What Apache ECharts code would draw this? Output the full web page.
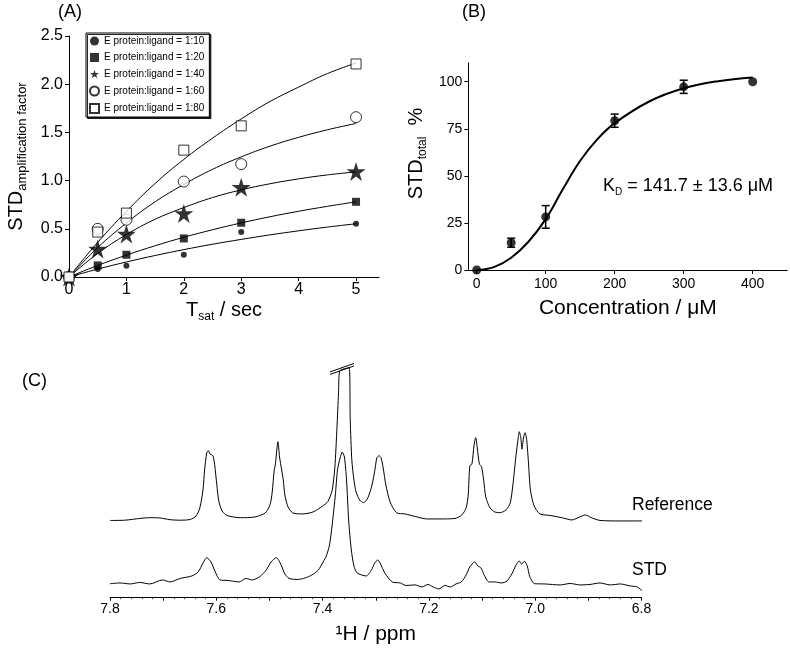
<!DOCTYPE html>
<html><head><meta charset="utf-8">
<script src="https://cdn.jsdelivr.net/npm/echarts@6/dist/echarts.min.js"></script>
<style>html,body{margin:0;padding:0;background:#fff}#c{width:790px;height:648px}</style>
</head><body><div id="c"></div>
<script>
// ---------- Panel A ----------
const tSat = [0, 0.5, 1, 2, 3, 5];
const ratioNames = ['E protein:ligand = 1:10','E protein:ligand = 1:20','E protein:ligand = 1:40','E protein:ligand = 1:60','E protein:ligand = 1:80'];
const amp110 = [0, 0.083, 0.117, 0.231, 0.467, 0.553];
const amp120 = [0, 0.12, 0.231, 0.40, 0.563, 0.78];
const amp140 = [0, 0.29, 0.446, 0.66, 0.93, 1.094];
const amp160 = [0, 0.50, 0.594, 0.99, 1.171, 1.658];
const amp180 = [0, 0.466, 0.663, 1.316, 1.568, 2.21];
const fitT = [0, 0.5, 1, 1.5, 2, 2.5, 3, 3.5, 4, 4.5, 5];
const fit110 = [0, 0.082, 0.156, 0.223, 0.284, 0.34, 0.39, 0.437, 0.479, 0.518, 0.552];
const fit120 = [0, 0.12, 0.227, 0.324, 0.412, 0.49, 0.561, 0.625, 0.682, 0.733, 0.78];
const fit140 = [0, 0.245, 0.44, 0.599, 0.72, 0.824, 0.904, 0.967, 1.018, 1.059, 1.09];
const fit160 = [0, 0.305, 0.56, 0.78, 0.96, 1.117, 1.246, 1.357, 1.449, 1.527, 1.593];
const fit180 = [0, 0.36, 0.68, 0.97, 1.22, 1.44, 1.64, 1.82, 1.97, 2.11, 2.22];
const tTicks = [0, 1, 2, 3, 4, 5];

// ---------- Panel B ----------
const conc = [0, 50, 100, 200, 300, 400];
const stdTotal = [0, 14.5, 28.2, 79.3, 97.3, 100];
const stdErr = [0, 2.4, 6.0, 3.5, 3.5, 0];
const fitConc = [0, 25, 50, 75, 100, 125, 150, 175, 200, 250, 300, 350, 400];
const fitStd = [0, 1.5, 6.5, 15, 27, 43, 58, 69.5, 78, 89.5, 96.5, 100.3, 102.3];
const concTicks = [0, 100, 200, 300, 400];
const pctTicks = [0, 25, 50, 75, 100];

// ---------- Panel C (ppm, intensity) ----------
const refSpectrum = [[7.800,30.9],[7.772,31.0],[7.744,31.7],[7.725,32.0],[7.706,31.9],[7.687,31.2],[7.668,31.0],[7.649,31.3],[7.638,32.7],[7.631,35.9],[7.625,43.1],[7.622,51.1],[7.618,57.9],[7.615,58.8],[7.612,57.5],[7.608,57.1],[7.606,56.7],[7.603,53.1],[7.599,45.1],[7.595,38.3],[7.589,34.7],[7.580,32.9],[7.555,32.0],[7.527,32.3],[7.508,33.9],[7.499,37.1],[7.495,41.9],[7.491,51.1],[7.489,53.1],[7.484,62.4],[7.481,56.3],[7.477,51.1],[7.474,47.1],[7.471,41.1],[7.465,36.3],[7.456,33.9],[7.437,33.5],[7.418,34.3],[7.401,36.5],[7.390,38.5],[7.382,43.0],[7.377,52.0],[7.373,68.0],[7.370,82.0],[7.368,90.6],[7.350,92.0],[7.348,71.0],[7.345,55.0],[7.341,47.0],[7.337,42.3],[7.330,39.0],[7.323,38.0],[7.315,39.9],[7.307,45.1],[7.301,51.9],[7.298,55.9],[7.294,56.8],[7.290,55.9],[7.286,51.9],[7.281,45.1],[7.273,38.3],[7.261,34.0],[7.245,33.5],[7.226,32.5],[7.204,31.5],[7.179,31.5],[7.151,31.7],[7.138,33.1],[7.130,35.9],[7.126,41.1],[7.123,52.7],[7.119,53.5],[7.115,61.1],[7.112,64.0],[7.109,59.9],[7.105,53.5],[7.101,52.4],[7.097,47.1],[7.093,40.3],[7.085,35.9],[7.076,34.3],[7.066,34.0],[7.055,35.1],[7.047,37.9],[7.042,45.1],[7.036,57.1],[7.032,63.9],[7.030,66.4],[7.027,63.9],[7.025,59.4],[7.022,63.9],[7.019,66.0],[7.016,63.1],[7.013,55.1],[7.009,43.1],[7.002,36.7],[6.991,33.5],[6.972,32.9],[6.948,31.9],[6.931,31.1],[6.916,32.3],[6.906,33.1],[6.893,31.9],[6.878,30.9],[6.840,30.7],[6.799,30.7]];
const stdSpectrum = [[7.800,5.6],[7.781,5.9],[7.762,5.5],[7.744,6.1],[7.725,5.5],[7.701,7.1],[7.687,6.3],[7.668,7.7],[7.646,8.7],[7.634,10.3],[7.625,13.9],[7.618,16.0],[7.610,14.3],[7.602,10.3],[7.593,7.1],[7.578,6.9],[7.557,6.3],[7.544,7.7],[7.533,7.1],[7.518,8.4],[7.506,11.1],[7.497,14.3],[7.487,16.0],[7.478,13.1],[7.471,9.5],[7.463,7.7],[7.446,7.3],[7.433,7.9],[7.420,9.1],[7.408,11.1],[7.399,14.3],[7.393,16.7],[7.387,21.1],[7.382,29.1],[7.376,41.1],[7.372,51.1],[7.367,55.9],[7.363,58.2],[7.359,56.3],[7.355,47.1],[7.351,31.1],[7.346,19.1],[7.341,12.7],[7.335,9.9],[7.318,8.7],[7.308,11.1],[7.302,13.9],[7.296,15.1],[7.291,13.5],[7.283,9.9],[7.269,6.3],[7.254,5.9],[7.243,4.9],[7.226,5.1],[7.213,4.3],[7.202,5.3],[7.192,4.3],[7.181,3.5],[7.170,4.9],[7.160,4.3],[7.149,5.5],[7.139,6.3],[7.130,9.1],[7.123,12.3],[7.114,14.3],[7.108,12.7],[7.102,11.9],[7.096,9.1],[7.087,6.3],[7.076,6.3],[7.063,5.9],[7.053,6.7],[7.044,9.5],[7.036,13.1],[7.030,14.7],[7.026,13.5],[7.020,14.5],[7.015,12.7],[7.010,8.3],[7.001,5.6],[6.982,5.5],[6.953,5.1],[6.934,5.7],[6.916,5.1],[6.897,5.3],[6.878,5.9],[6.859,5.1],[6.840,5.5],[6.821,4.7],[6.808,4.3],[6.799,2.8]];
const breakLine1 = [[7.386, 89.3], [7.341, 92.7]];
const breakLine2 = [[7.386, 90.3], [7.341, 93.7]];
const ppmLabels = [7.8, 7.6, 7.4, 7.2, 7.0, 6.8];

const FONT = 'Liberation Sans, Arial, Helvetica, sans-serif';
const BLACK = '#000';
const STAR = 'path://M0,-1L0.224,-0.309L0.951,-0.309L0.363,0.118L0.588,0.809L0,0.382L-0.588,0.809L-0.363,0.118L-0.951,-0.309L-0.224,-0.309Z';

const zip = (xs, ys) => xs.map((x, i) => [x, ys[i]]);

function axisCommon(fs) {
  return {
    axisLine: { show: true, onZero: false, lineStyle: { color: BLACK, width: 1 } },
    axisTick: { show: true, inside: false, length: 4, lineStyle: { color: BLACK } },
    axisLabel: { color: BLACK, fontSize: fs, fontFamily: FONT },
    splitLine: { show: false },
    nameTextStyle: { color: BLACK, fontFamily: FONT }
  };
}

const chart = echarts.init(document.getElementById('c'), null, { renderer: 'canvas' });

const fitLine = (d) => ({ type: 'line', xAxisIndex: 0, yAxisIndex: 0, data: zip(fitT, d), smooth: 0.4, showSymbol: false, silent: true, lineStyle: { color: BLACK, width: 1 }, z: 2 });
const scat = (name, d, symbol, size, filled) => ({
  type: 'scatter', name, xAxisIndex: 0, yAxisIndex: 0, data: zip(tSat, d), symbol, symbolSize: size, z: 5,
  itemStyle: filled ? { color: BLACK } : { color: '#fff', borderColor: BLACK, borderWidth: 1 }
});

const A = axisCommon(16), B = axisCommon(14), C = axisCommon(14);

const option = {
  animation: false,
  backgroundColor: '#fff',
  textStyle: { fontFamily: FONT },
  grid: [
    { left: 69, right: 411, top: 36, bottom: 371 },
    { left: 468.4, right: 2.8, top: 62.9, bottom: 378 },
    { left: 110, right: 148.5, top: 347.7, bottom: 50.3 }
  ],
  legend: {
    data: ratioNames, orient: 'vertical', left: 86, top: 33,
    itemWidth: 9, itemHeight: 9, itemGap: 6.5, padding: [3, 5, 3, 3],
    textStyle: { fontSize: 10, color: BLACK, fontFamily: FONT },
    borderColor: BLACK, borderWidth: 1, backgroundColor: '#fff',
    shadowColor: 'rgba(0,0,0,0.85)', shadowOffsetX: 1.5, shadowOffsetY: 1.5, shadowBlur: 0,
    selectedMode: false
  },
  xAxis: [
    Object.assign({}, A, {
      gridIndex: 0, type: 'value', min: 0, max: 5.4, interval: 1,
      axisTick: Object.assign({}, A.axisTick, { customValues: tTicks }),
      axisLabel: Object.assign({}, A.axisLabel, { customValues: tTicks, margin: 5 }),
      name: '{m|T}{s|sat}{m| / sec}', nameLocation: 'middle', nameGap: 23,
      nameTextStyle: { rich: {
        m: { fontSize: 20, fontFamily: FONT, color: BLACK, verticalAlign: 'top', lineHeight: 20 },
        s: { fontSize: 12, fontFamily: FONT, color: BLACK, verticalAlign: 'top', padding: [11, 0, 0, 0] }
      } }
    }),
    Object.assign({}, B, {
      gridIndex: 1, type: 'value', min: -12, max: 450,
      axisTick: Object.assign({}, B.axisTick, { customValues: concTicks }),
      axisLabel: Object.assign({}, B.axisLabel, { customValues: concTicks, margin: 7 }),
      name: 'Concentration / μM', nameLocation: 'middle', nameGap: 28,
      nameTextStyle: { fontSize: 21, color: BLACK, fontFamily: FONT }
    }),
    Object.assign({}, C, {
      gridIndex: 2, type: 'value', min: 6.8, max: 7.8, interval: 0.1, inverse: true,
      axisTick: Object.assign({}, C.axisTick, { length: 3 }),
      minorTick: { show: true, splitNumber: 5, length: 1.5, lineStyle: { color: BLACK, width: 0.7 } },
      axisLabel: Object.assign({}, C.axisLabel, { customValues: ppmLabels, margin: 4, formatter: v => v.toFixed(1) }),
      name: '¹H / ppm', nameLocation: 'middle', nameGap: 26,
      nameTextStyle: { fontSize: 21, color: BLACK, fontFamily: FONT }
    })
  ],
  yAxis: [
    Object.assign({}, A, {
      gridIndex: 0, type: 'value', min: 0, max: 2.5, interval: 0.5,
      axisLabel: Object.assign({}, A.axisLabel, { margin: 6, formatter: v => v.toFixed(1) }),
      name: '{m|STD}{s|amplification factor}', nameLocation: 'middle', nameRotate: 90, nameGap: 40,
      nameTextStyle: { rich: {
        m: { fontSize: 20, fontFamily: FONT, color: BLACK, verticalAlign: 'top', lineHeight: 20 },
        s: { fontSize: 13, fontFamily: FONT, color: BLACK, verticalAlign: 'top', padding: [10, 0, 0, 0] }
      } }
    }),
    Object.assign({}, B, {
      gridIndex: 1, type: 'value', min: 0, max: 110,
      axisTick: Object.assign({}, B.axisTick, { customValues: pctTicks }),
      axisLabel: Object.assign({}, B.axisLabel, { customValues: pctTicks, margin: 6 }),
      name: '{m|STD}{s|total}{m|  %}', nameLocation: 'middle', nameRotate: 90, nameGap: 40,
      nameTextStyle: { padding: [0, 0, 0, 26], rich: {
        m: { fontSize: 20, fontFamily: FONT, color: BLACK, verticalAlign: 'top', lineHeight: 20 },
        s: { fontSize: 12, fontFamily: FONT, color: BLACK, verticalAlign: 'top', padding: [10, 0, 0, 0] }
      } }
    }),
    { gridIndex: 2, type: 'value', min: 0, max: 100, show: false, splitLine: { show: false } }
  ],
  series: [
    fitLine(fit110), fitLine(fit120), fitLine(fit140), fitLine(fit160), fitLine(fit180),
    scat(ratioNames[0], amp110, 'circle', 6, true),
    scat(ratioNames[1], amp120, 'rect', 8, true),
    scat(ratioNames[2], amp140, STAR, 19, true),
    scat(ratioNames[3], amp160, 'circle', 11, false),
    scat(ratioNames[4], amp180, 'rect', 10, false),
    // Panel B
    { type: 'line', xAxisIndex: 1, yAxisIndex: 1, data: zip(fitConc, fitStd), smooth: 0.4, showSymbol: false, silent: true,
      lineStyle: { color: BLACK, width: 2 }, z: 2 },
    { type: 'custom', xAxisIndex: 1, yAxisIndex: 1, z: 4, silent: true,
      data: conc.map((c, i) => [c, stdTotal[i] - stdErr[i], stdTotal[i] + stdErr[i]]).filter((d, i) => stdErr[i] > 0),
      renderItem: (params, api) => {
        const x = api.value(0);
        const lo = api.coord([x, api.value(1)]);
        const hi = api.coord([x, api.value(2)]);
        const w = 4;
        const st = { stroke: BLACK, lineWidth: 1.5 };
        return { type: 'group', children: [
          { type: 'line', shape: { x1: lo[0], y1: lo[1], x2: hi[0], y2: hi[1] }, style: st },
          { type: 'line', shape: { x1: lo[0] - w, y1: lo[1], x2: lo[0] + w, y2: lo[1] }, style: st },
          { type: 'line', shape: { x1: hi[0] - w, y1: hi[1], x2: hi[0] + w, y2: hi[1] }, style: st }
        ] };
      } },
    { type: 'scatter', xAxisIndex: 1, yAxisIndex: 1, data: zip(conc, stdTotal), symbol: 'circle', symbolSize: 9, z: 5,
      itemStyle: { color: BLACK } },
    // Panel C
    { type: 'line', xAxisIndex: 2, yAxisIndex: 2, data: refSpectrum, smooth: 0.25, showSymbol: false, silent: true,
      lineStyle: { color: BLACK, width: 1 } },
    { type: 'line', xAxisIndex: 2, yAxisIndex: 2, data: stdSpectrum, smooth: 0.25, showSymbol: false, silent: true,
      lineStyle: { color: BLACK, width: 1 } },
    { type: 'line', xAxisIndex: 2, yAxisIndex: 2, data: breakLine1, showSymbol: false, silent: true, lineStyle: { color: BLACK, width: 1 } },
    { type: 'line', xAxisIndex: 2, yAxisIndex: 2, data: breakLine2, showSymbol: false, silent: true, lineStyle: { color: BLACK, width: 1 } }
  ],
  graphic: [
    { type: 'text', x: 58, y: 3, style: { text: '(A)', fontSize: 18, fontFamily: FONT, fill: BLACK } },
    { type: 'text', x: 462, y: 3, style: { text: '(B)', fontSize: 18, fontFamily: FONT, fill: BLACK } },
    { type: 'text', x: 22, y: 372, style: { text: '(C)', fontSize: 18, fontFamily: FONT, fill: BLACK } },
    { type: 'text', x: 632, y: 505, style: { text: 'Reference', fontSize: 17.5, fontFamily: FONT, fill: BLACK, verticalAlign: 'middle' } },
    { type: 'text', x: 632, y: 570, style: { text: 'STD', fontSize: 17.5, fontFamily: FONT, fill: BLACK, verticalAlign: 'middle' } },
    { type: 'text', x: 603, y: 177, style: {
      text: '{m|K}{s|D}{m| = 141.7 ± 13.6 μM}', fill: BLACK,
      rich: {
        m: { fontSize: 18, fontFamily: FONT, fill: BLACK, verticalAlign: 'top', lineHeight: 18 },
        s: { fontSize: 10, fontFamily: FONT, fill: BLACK, verticalAlign: 'top', padding: [10, 0, 0, 0] }
      } } }
  ]
};
chart.setOption(option);
</script></body></html>
